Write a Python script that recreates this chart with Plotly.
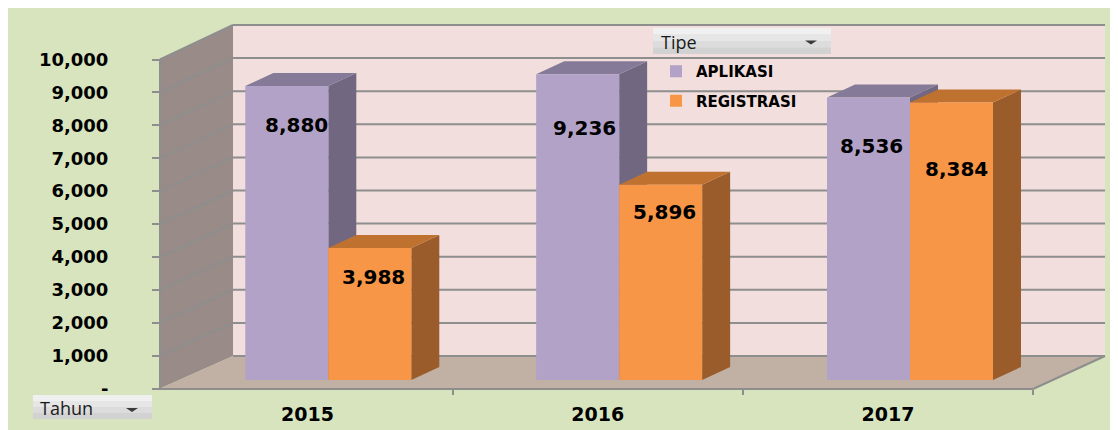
import plotly.graph_objects as go

# ---------------- data ----------------
years = ["2015", "2016", "2017"]
aplikasi = [8880, 9236, 8536]
registrasi = [3988, 5896, 8384]
series_names = ["APLIKASI", "REGISTRASI"]
y_tick_values = [0, 1000, 2000, 3000, 4000, 5000, 6000, 7000, 8000, 9000, 10000]
y_tick_text = ["-", "1,000", "2,000", "3,000", "4,000", "5,000", "6,000",
               "7,000", "8,000", "9,000", "10,000"]
legend_title = "Tipe"
axis_button = "Tahun"

# ---------------- geometry / style ----------------
# window coordinates measured from the reference; the page body adds an
# 8 px margin, so the figure itself starts at (8, 8) in the window.
OFF = 8
FW, FH = 1110, 422
VMAX = 10000


def pxx(x):
    return (x - OFF) / FW


def pyy(y):
    return 1 - (y - OFF) / FH


def vrange(p0, p10):
    k = (p0 - p10) / VMAX
    return [(p0 - (OFF + FH)) / k, (p0 - OFF) / k], k


BAR_R, BAR_K = vrange(380, 49)          # bars (mid depth)
FRONT_R, FRONT_K = vrange(388.5, 59.5)  # front plane (tick labels)
BACK_R, BACK_K = vrange(356, 25)        # back wall

CAT0, PITCH = 328.3, 290.85
X_R = [(OFF - CAT0) / PITCH, (OFF + FW - CAT0) / PITCH]
LAB0, LPITCH = 307.5, 290.25
X2_R = [(OFF - LAB0) / LPITCH, (OFF + FW - LAB0) / LPITCH]

BARGAP = 1 - 166 / PITCH
BW = (1 - BARGAP) / 2
DX = 28 / PITCH
DY = 13 / BAR_K

GREEN = "#D7E4BD"
PINK = "#F2DEDC"
SIDE = "#998B88"
FLOOR = "#C1B1A4"
GRID = "#8E8E8E"
PURPLE = ["#B3A2C7", "#857B99", "#716781"]
ORANGE = ["#F79646", "#BF7130", "#9A5C2A"]

LABEL_SHIFT = [[(10, -39), (7, -54), (3, -49)],
               [(4, -29), (4, -27), (5, -67)]]

FONT = "DejaVu Sans"

fig = go.Figure()
fig.add_trace(go.Bar(x=years, y=aplikasi, name=series_names[0],
                     marker=dict(color=PURPLE[0], line=dict(width=0)),
                     legendgroup="a", hoverinfo="skip"))
fig.add_trace(go.Bar(x=years, y=registrasi, name=series_names[1],
                     marker=dict(color=ORANGE[0], line=dict(width=0)),
                     legendgroup="b", hoverinfo="skip"))
fig.add_trace(go.Scatter(x=[None], y=[None], xaxis="x2", yaxis="y2",
                         showlegend=False, hoverinfo="skip"))
fig.add_trace(go.Scatter(x=[None], y=[None], xaxis="x", yaxis="y3",
                         showlegend=False, hoverinfo="skip"))

shapes = []


def poly(pts, fill, line=None):
    d = "M" + " L".join(f"{pxx(x):.5f},{pyy(y):.5f}" for x, y in pts) + " Z"
    return dict(type="path", path=d, xref="paper", yref="paper",
                fillcolor=fill, line=dict(width=0) if line is None else line,
                layer="below")


def seg(x0, y0, x1, y1, color=GRID, width=2):
    return dict(type="line", xref="paper", yref="paper",
                x0=pxx(x0), y0=pyy(y0), x1=pxx(x1), y1=pyy(y1),
                line=dict(color=color, width=width), layer="below")


# chart area
shapes.append(dict(type="rect", xref="paper", yref="paper",
                   x0=pxx(7), y0=pyy(6), x1=pxx(1130), y1=pyy(445),
                   fillcolor=GREEN, line=dict(color="#8C8C8C", width=2),
                   layer="below"))
# walls
shapes.append(poly([(233, 25), (1105, 25), (1105, 356), (233, 356)], PINK))
shapes.append(poly([(160, 59.5), (233, 25), (233, 356), (160, 388.5)], SIDE))
shapes.append(poly([(160, 388.5), (233, 356), (1105, 356), (1033, 389)], FLOOR))
# back-wall gridlines
for v in y_tick_values:
    shapes.append(dict(type="line", xref="paper", yref="y3",
                       x0=pxx(233), x1=pxx(1105), y0=v, y1=v,
                       line=dict(color=GRID, width=2), layer="below"))
    yf = 388.5 - v * FRONT_K
    yb = 356 - v * BACK_K
    if v > 0:
        shapes.append(seg(160, yf, 233, yb))
# front axis + floor edges
shapes.append(seg(160, 59.5, 160, 389))
shapes.append(seg(160, 389, 1033, 389))
shapes.append(seg(1033, 389, 1105, 356))

# 3-D faces of the bars (data coordinates)
for s, (vals, cols) in enumerate([(aplikasi, PURPLE), (registrasi, ORANGE)]):
    for c, v in enumerate(vals):
        xl = c - BW + s * BW
        xr = xl + BW
        top = (f"M{xl},{v} L{xr},{v} L{xr + DX},{v + DY} "
               f"L{xl + DX},{v + DY} Z")
        side = (f"M{xr},{v} L{xr + DX},{v + DY} L{xr + DX},{DY} "
                f"L{xr},0 Z")
        shapes.append(dict(type="path", path=side, xref="x", yref="y",
                           fillcolor=cols[2], line=dict(width=0), layer="below"))
        shapes.append(dict(type="path", path=top, xref="x", yref="y",
                           fillcolor=cols[1], line=dict(width=0), layer="below"))


# filter buttons
def button(x0, y0, x1, y1):
    grads = ["#F0F0F0", "#E6E6E6", "#DCDCDC", "#D2D2D2"]
    h = (y1 - y0) / len(grads)
    for i, g in enumerate(grads):
        shapes.append(dict(type="rect", xref="paper", yref="paper",
                           x0=pxx(x0), x1=pxx(x1), y0=pyy(y0 + i * h),
                           y1=pyy(y0 + (i + 1) * h), fillcolor=g,
                           line=dict(width=0), layer="above"))


button(653, 28, 831, 54)
button(33, 395, 152, 419)
for (tx, ty) in [(811, 40.5), (132, 408)]:
    shapes.append(dict(type="path", xref="paper", yref="paper",
                       path=f"M{pxx(tx - 6)},{pyy(ty)} L{pxx(tx + 6)},{pyy(ty)} "
                            f"L{pxx(tx)},{pyy(ty + 4)} Z",
                       fillcolor="#3A3A3A", line=dict(width=0), layer="above"))

annotations = []
for s, vals in enumerate([aplikasi, registrasi]):
    for c, v in enumerate(vals):
        xs, ys = LABEL_SHIFT[s][c]
        annotations.append(dict(
            x=c - BW / 2 + s * BW, y=v, xref="x", yref="y",
            text=f"{v:,}", showarrow=False, xshift=xs, yshift=ys,
            font=dict(family=FONT, size=20, color="black", weight="bold")))
annotations.append(dict(x=pxx(659), y=pyy(41.5), xref="paper", yref="paper",
                        text=legend_title, showarrow=False, xanchor="left",
                        yanchor="middle",
                        font=dict(family="Open Sans", size=18, color="#1A1A1A")))
annotations.append(dict(x=pxx(38), y=pyy(407.5), xref="paper", yref="paper",
                        text=axis_button, showarrow=False, xanchor="left",
                        yanchor="middle",
                        font=dict(family="Open Sans", size=18, color="#1A1A1A")))

fig.update_layout(
    width=FW, height=FH,
    margin=dict(l=0, r=0, t=0, b=0),
    paper_bgcolor="white", plot_bgcolor="rgba(0,0,0,0)",
    barmode="group", bargap=BARGAP, bargroupgap=0,
    xaxis=dict(type="category", range=X_R, visible=False, fixedrange=True),
    yaxis=dict(range=BAR_R, visible=False, fixedrange=True),
    xaxis2=dict(overlaying="x", anchor="free", position=pyy(389), side="bottom",
                range=X2_R, tickmode="array", tickvals=[0, 1, 2], ticktext=years,
                ticks="", showgrid=False, zeroline=False, showline=False,
                ticklabelstandoff=12,
                tickfont=dict(family=FONT, size=19, color="black", weight="bold"),
                minor=dict(tickmode="array", tickvals=[0.5, 1.5, 2.5],
                           ticks="outside", ticklen=5, tickwidth=2,
                           tickcolor=GRID)),
    yaxis2=dict(overlaying="y", anchor="free", position=pxx(160), side="left",
                range=FRONT_R, tickmode="array", tickvals=y_tick_values,
                ticktext=y_tick_text, ticks="outside", ticklen=8, tickwidth=2,
                tickcolor=GRID, showgrid=False, zeroline=False, showline=False,
                ticklabelstandoff=40,
                tickfont=dict(family=FONT, size=18, color="black", weight="bold")),
    yaxis3=dict(overlaying="y", range=BACK_R, visible=False),
    legend=dict(x=pxx(656), y=pyy(55), xanchor="left", yanchor="top",
                bgcolor="rgba(0,0,0,0)", tracegroupgap=7,
                font=dict(family=FONT, size=15, color="black", weight="bold")),
    shapes=shapes, annotations=annotations,
    showlegend=True,
)

fig.write_html("out.html")
